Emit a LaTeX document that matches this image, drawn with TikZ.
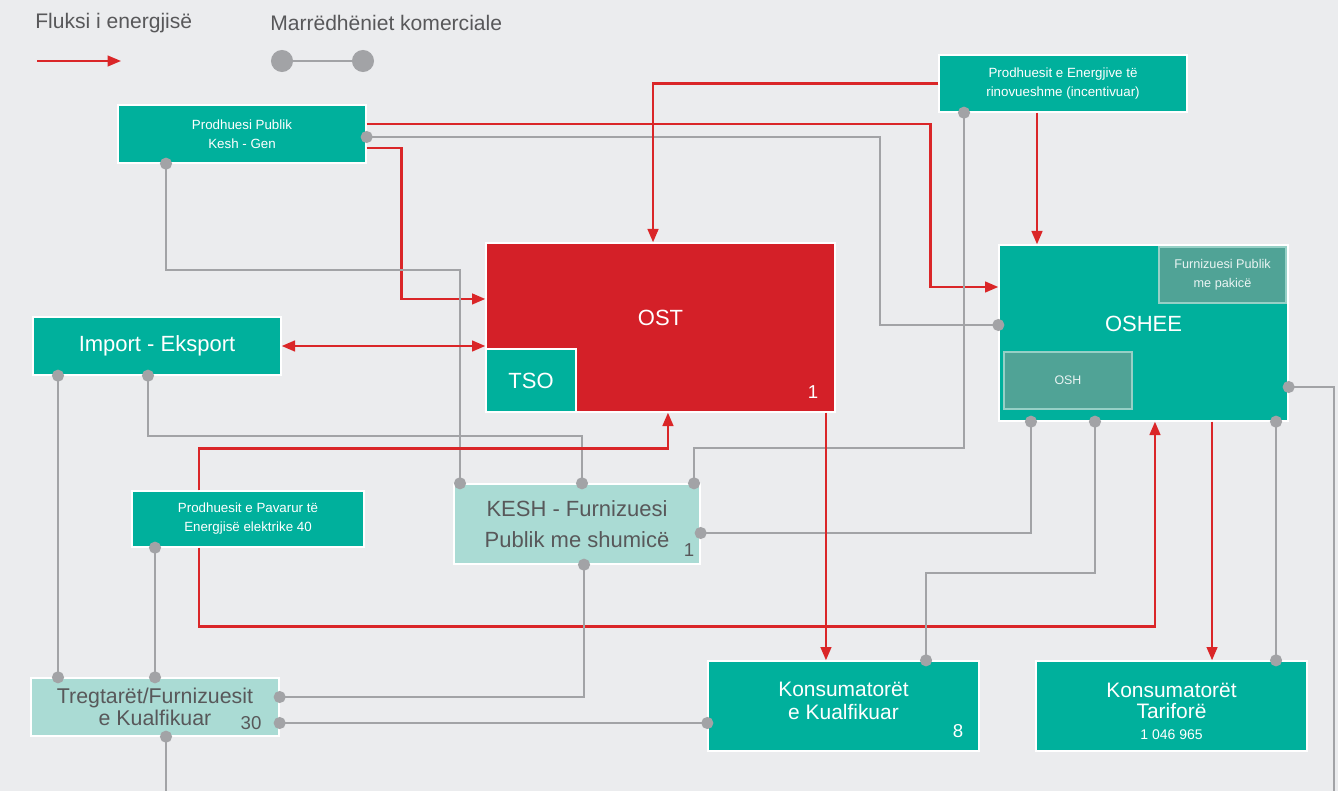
\documentclass[tikz,border=0pt]{standalone}
\usepackage{fontspec}
\setmainfont{Liberation Sans}
\usetikzlibrary{arrows.meta}
\definecolor{canvas}{RGB}{235,236,238}
\definecolor{boxteal}{RGB}{0,176,156}
\definecolor{boxred}{RGB}{212,32,40}
\definecolor{paleteal}{RGB}{170,219,212}
\definecolor{innerteal}{RGB}{80,163,150}
\definecolor{innerline}{RGB}{150,208,198}
\definecolor{flowred}{RGB}{218,38,40}
\definecolor{linegray}{RGB}{162,163,166}
\definecolor{labelgray}{RGB}{88,88,90}
\begin{document}
\begin{tikzpicture}[x=0.75pt, y=-0.75pt,
box/.style={fill=boxteal, draw=white, line width=1pt, inner sep=0pt, text=white, align=center},
hotbox/.style={box, fill=boxred},
palebox/.style={box, fill=paleteal, text=labelgray},
innerbox/.style={box, fill=innerteal, draw=innerline, text=white!88!innerteal},
boxlabel/.style={text=white, align=center, font=\fontsize{15.7}{17.25}\selectfont},
smalltext/.style={font=\fontsize{10}{14.25}\selectfont},
bigtext/.style={font=\fontsize{16.5}{17}\selectfont},
numtext/.style={inner sep=0pt, font=\fontsize{14}{16}\selectfont},
legendtext/.style={inner sep=0pt, text=labelgray, font=\fontsize{15.8}{17}\selectfont},
flow/.style={draw=flowred, line width=1.8pt, -{Triangle[length=10pt,width=8pt]}},
trade/.style={draw=linegray, line width=1.6pt, {Circle[length=9pt]}-{Circle[length=9pt]}, shorten <=-4.5pt, shorten >=-4.5pt},
tradeend/.style={draw=linegray, line width=1.6pt, {Circle[length=9pt]}-, shorten <=-4.5pt}]
\fill[canvas] (0,0) rectangle (1338,791);
\useasboundingbox (0,0) rectangle (1338,791);

\node (fluxlabel) [legendtext, anchor=west] at (35,23) {Fluksi i energjisë};
\node (tradelabel) [legendtext, anchor=west] at (270,23) {Marrëdhëniet komerciale};
\coordinate (fluxa) at (37,61);
\coordinate (fluxb) at (121,61);
\coordinate (tradea) at (282,61);
\coordinate (tradeb) at (363,61);
\draw[flow, line width=1.5pt] (fluxa) -- (fluxb);
\draw[trade, line width=1.2pt, {Circle[length=16.5pt]}-{Circle[length=16.5pt]}, shorten <=-8.25pt, shorten >=-8.25pt] (tradea) -- (tradeb);

\node (pub) [box, smalltext, minimum width=186pt, minimum height=43.5pt] at (242,134) {Prodhuesi Publik\\Kesh - Gen};
\node (ren) [box, smalltext, minimum width=186pt, minimum height=42.75pt] at (1063,83.5) {Prodhuesit e Energjive të\\rinovueshme (incentivuar)};
\node (ost) [hotbox, minimum width=261.75pt, minimum height=126.75pt, label={[bigtext, text=white, yshift=7pt]center:OST}] at (660.5,327.5) {};
\node (tso) [box, bigtext, line width=1.5pt, minimum width=67.5pt, minimum height=47.25pt] at (531,380.5) {TSO};
\node (ostnum) [numtext, text=white] at (813,392) {1};
\node (oshee) [box, minimum width=216.75pt, minimum height=132pt, label={[bigtext, text=white, yshift=6.75pt]center:OSHEE}] at (1143.5,333) {};
\node (fps) [innerbox, font=\fontsize{9.5}{14.25}\selectfont, minimum width=95.25pt, minimum height=42pt] at (1222.5,275) {Furnizuesi Publik\\me pakicë};
\node (osh) [innerbox, font=\fontsize{9.3}{11}\selectfont, minimum width=96pt, minimum height=42.75pt] at (1068,380.5) {OSH};
\node (imex) [box, bigtext, minimum width=186pt, minimum height=43.5pt] at (157,346) {Import - Eksport};
\node (pav) [box, smalltext, minimum width=174pt, minimum height=42pt] at (248,519) {Prodhuesit e Pavarur të\\Energjisë elektrike 40};
\node (kesh) [palebox, font=\fontsize{16.5}{23}\selectfont, minimum width=184.5pt, minimum height=60pt] at (577,524) {KESH - Furnizuesi\\Publik me shumicë};
\node (keshnum) [numtext, text=labelgray] at (689,550) {1};
\node (treg) [palebox, font=\fontsize{16}{16.5}\selectfont, minimum width=186pt, minimum height=43.5pt] at (155,707) {Tregtarët/Furnizuesit\\e Kualfikuar};
\node (tregnum) [numtext, text=labelgray] at (251,723) {30};
\node (kkual) [box, minimum width=203.25pt, minimum height=67.5pt, label={[boxlabel, yshift=4pt]center:Konsumatorët\\e Kualfikuar}] at (843.5,706) {};
\node (kkualnum) [numtext, text=white] at (958,731) {8};
\node (ktar) [box, minimum width=203.25pt, minimum height=67.5pt, label={[boxlabel, font=\fontsize{15.7}{15.5}\selectfont, yshift=-4pt]center:Konsumatorët\\Tariforë\\{\fontsize{10.5}{12}\selectfont 1 046 965}}] at (1171.5,706) {};

\draw[flow] ([yshift=7.5pt]pub.east) -- ++(564,0) |- ([yshift=34.5pt]oshee.west);
\draw[trade] ([yshift=-2.25pt]pub.east) -- ++(513,0) |- ([yshift=6pt]oshee.west);
\draw[flow] ([yshift=-10.5pt]pub.east) -- ++(35,0) |- ([yshift=21.4pt]ost.west);
\draw[trade] ([xshift=-57pt]pub.south) -- ++(0,106) -| ([xshift=-87.75pt]kesh.north);
\draw[flow] (ren.west) -| ([xshift=-5.6pt]ost.north);
\draw[flow] ([xshift=-19.5pt]ren.south) -- ([xshift=-19.5pt]ren.south |- oshee.north);
\draw[trade] ([xshift=-74.25pt]ren.south) -- ++(0,335) -| ([xshift=87.75pt]kesh.north);
\draw[flow, {Triangle[length=10pt,width=8pt]}-{Triangle[length=10pt,width=8pt]}] (imex.east) -- (imex.east -| ost.west);
\draw[trade] ([xshift=-74.25pt]imex.south) -- ([xshift=-74.25pt]imex.south |- treg.north);
\draw[trade] ([xshift=-6.75pt]imex.south) -- ++(0,60) -| ([xshift=3.75pt]kesh.north);
\draw[flow] ([xshift=-36.75pt]pav.north) -- ++(0,-42) -| ([xshift=5.6pt]ost.south);
\draw[flow] ([xshift=-36.75pt]pav.south) -- ++(0,79) -| ([xshift=8.6pt]oshee.south);
\draw[trade] ([xshift=-69.75pt]pav.south) -- ([xshift=-69.75pt]pav.south |- treg.north);
\draw[trade] ([yshift=-6.75pt]kesh.east) -| ([xshift=-84.4pt]oshee.south);
\draw[trade] ([xshift=5.25pt]kesh.south) |- ([yshift=7.5pt]treg.east);
\draw[trade] ([yshift=-12pt]treg.east) -- ([yshift=-12pt]treg.east -| kkual.west);
\draw[tradeend] ([xshift=8.25pt]treg.south) -- ++(0,58);
\draw[flow] ([xshift=124.1pt]ost.south) -- ([xshift=124.1pt]ost.south |- kkual.north);
\draw[trade] ([xshift=-36.4pt]oshee.south) -- ++(0,151) -| ([xshift=61.9pt]kkual.north);
\draw[flow] ([xshift=51.4pt]oshee.south) -- ([xshift=51.4pt]oshee.south |- ktar.north);
\draw[trade] ([xshift=99.4pt]oshee.south) -- ([xshift=99.4pt]oshee.south |- ktar.north);
\draw[tradeend] ([yshift=-40.5pt]oshee.east) -- ++(45,0) -- ++(0,404);
\end{tikzpicture}
\end{document}
